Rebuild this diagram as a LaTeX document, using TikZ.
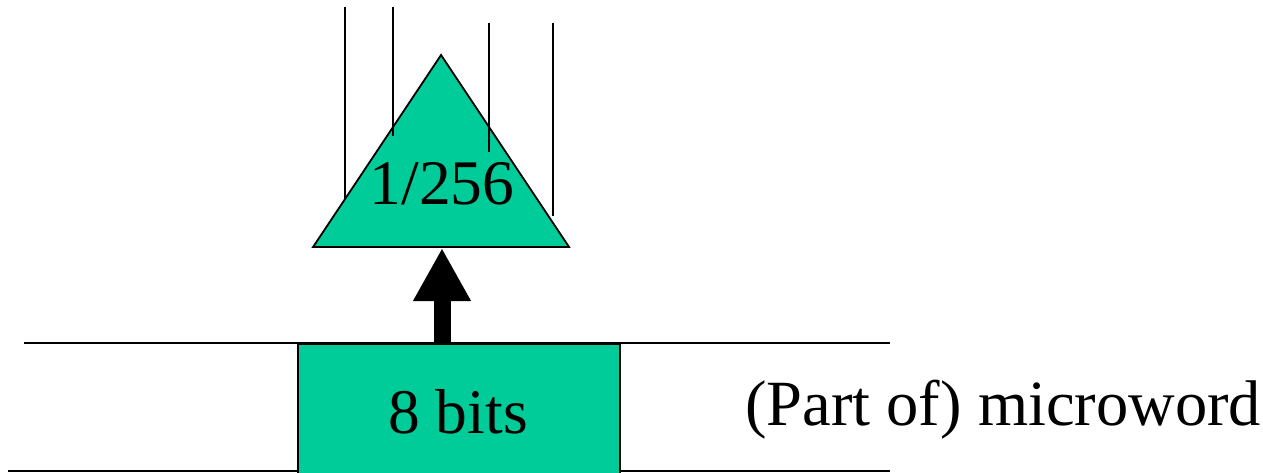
\documentclass[tikz,border=0pt]{standalone}
\usepackage{fontspec}
\setmainfont{Liberation Serif}
\usetikzlibrary{arrows.meta}
\definecolor{tgreen}{HTML}{00CC99}
\tikzset{
  thin line/.style={draw=black, line width=1.6pt},
  greenfill/.style={fill=tgreen, draw=black, line width=1.8pt},
  big text/.style={font=\fontsize{63.5}{70}\selectfont, inner sep=0pt},
  fat arrow/.style={line width=17pt, -{Triangle[length=53pt,width=54pt]}, draw=black},
}
\begin{document}
\begin{tikzpicture}[x=1pt,y=1pt]
\useasboundingbox (0,0) rectangle (1263,472);
% horizontal lines of the microword
\coordinate (tl) at (24,129);
\coordinate (tr) at (890,129);
\coordinate (bl) at (8,1);
\coordinate (br) at (890,1);
\draw[thin line] (tl) -- (tr);
\draw[thin line] (bl) -- (br);
% 8-bit field
\node[greenfill, minimum width=322pt, minimum height=130pt, inner sep=0pt, anchor=north west] (box) at (297,129) {};
\node[big text, anchor=base] (bits) at (458,39) {8 bits};
% triangle (decoder)
\coordinate (tL) at (313,225);
\coordinate (tR) at (569,225);
\coordinate (tA) at (441,417);
\coordinate (tB) at (442,224);
\filldraw[greenfill, line join=miter] (tL) -- (tR) -- (tA) -- cycle;
\node[big text, anchor=base] (frac) at (442,268) {1/256};
% output lines
\coordinate (o1t) at (345,465); \coordinate (o1b) at (345,273);
\coordinate (o2t) at (393,465); \coordinate (o2b) at (393,336);
\coordinate (o3t) at (489,449); \coordinate (o3b) at (489,320);
\coordinate (o4t) at (553,449); \coordinate (o4b) at (553,256);
\draw[thin line] (o1t) -- (o1b);
\draw[thin line] (o2t) -- (o2b);
\draw[thin line] (o3t) -- (o3b);
\draw[thin line] (o4t) -- (o4b);
% fat arrow
\draw[fat arrow] (box.north -| tB) -- (tB);
% label
\node[big text, anchor=base west, font=\fontsize{64.5}{70}\selectfont] (lbl) at (745,47) {(Part of) microword};
\end{tikzpicture}
\end{document}
